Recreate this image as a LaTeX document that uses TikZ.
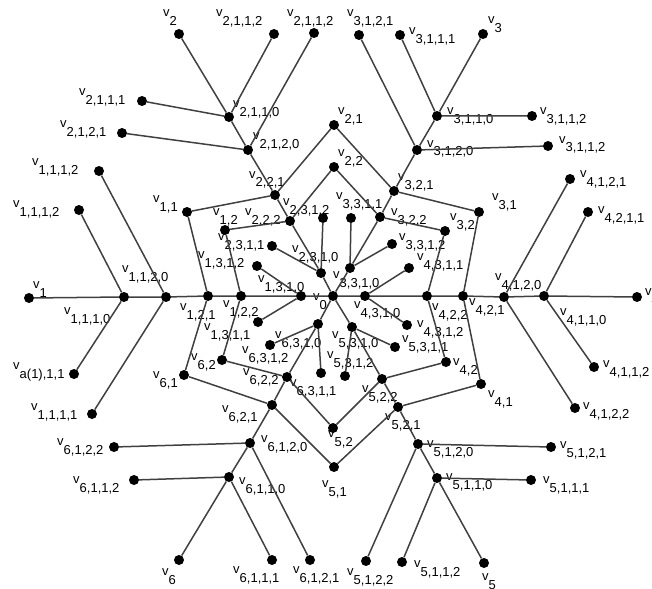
\documentclass[tikz,border=0pt]{standalone}
\usepackage{fontspec}
\setmainfont{Liberation Sans}
\definecolor{linkgray}{RGB}{64,64,64}
\newcommand{\vsub}[1]{v\raisebox{-9pt}{#1}}

\begin{document}
\begin{tikzpicture}[x=1pt,y=-1pt,dot/.style={circle,fill=black,inner sep=0pt,minimum size=10pt},lbl/.style={anchor=base west,inner sep=0pt,font=\fontsize{13}{15}\selectfont},link/.style={draw=linkgray,line width=1.5pt}]
\useasboundingbox (0,0) rectangle (652,588);
% centre and arm 1
\node[dot] (v0) at (333,296) {}; \node[lbl] (l0) at (313,300) {\vsub{0}};
\node[dot] (v1) at (29,298) {}; \node[lbl] (l1) at (33,288) {\vsub{1}};
\node[dot] (v1110) at (124,297) {}; \node[lbl] (l1110) at (64,314) {\vsub{1,1,1,0}};
\node[dot] (v1120) at (166,297) {}; \node[lbl] (l1120) at (122,272) {\vsub{1,1,2,0}};
\node[dot] (v121) at (208,296) {}; \node[lbl] (l121) at (180,310) {\vsub{1,2,1}};
\node[dot] (v122) at (241,296) {}; \node[lbl] (l122) at (223,307) {\vsub{1,2,2}};
\node[dot] (v1310) at (301,296) {}; \node[lbl] (l1310) at (258,282) {\vsub{1,3,1,0}};
\node[dot] (v1112a) at (99,171) {}; \node[lbl] (l1112a) at (32,165) {\vsub{1,1,1,2}};
\node[dot] (v1112b) at (79,210) {}; \node[lbl] (l1112b) at (13,207) {\vsub{1,1,1,2}};
\node[dot] (va111) at (74,374) {}; \node[lbl] (la111) at (13,369) {\vsub{a(1),1,1}};
\node[dot] (v1111) at (92,414) {}; \node[lbl] (l1111) at (31,410) {\vsub{1,1,1,1}};
\node[dot] (v1312) at (257,266) {}; \node[lbl] (l1312) at (198,258) {\vsub{1,3,1,2}};
\node[dot] (v1311) at (258,322) {}; \node[lbl] (l1311) at (204,330) {\vsub{1,3,1,1}};
% arm 2
\node[dot] (v2) at (179,34) {}; \node[lbl] (l2) at (163,17) {\vsub{2}};
\node[dot] (v2110) at (229,117) {}; \node[lbl] (l2110) at (233,108) {\vsub{2,1,1,0}};
\node[dot] (v2120) at (248,150) {}; \node[lbl] (l2120) at (253,140) {\vsub{2,1,2,0}};
\node[dot] (v221) at (275,195) {}; \node[lbl] (l221) at (249,178) {\vsub{2,2,1}};
\node[dot] (v222) at (290,221) {}; \node[lbl] (l222) at (245,215) {\vsub{2,2,2}};
\node[dot] (v2310) at (321,273) {}; \node[lbl] (l2310) at (292,252) {\vsub{2,3,1,0}};
\node[dot] (v2112a) at (274,34) {}; \node[lbl] (l2112a) at (216,17) {\vsub{2,1,1,2}};
\node[dot] (v2112b) at (314,33) {}; \node[lbl] (l2112b) at (287,17) {\vsub{2,1,1,2}};
\node[dot] (v2111) at (142,101) {}; \node[lbl] (l2111) at (79,96) {\vsub{2,1,1,1}};
\node[dot] (v2121) at (122,133) {}; \node[lbl] (l2121) at (60,128) {\vsub{2,1,2,1}};
\node[dot] (v2312) at (323,218) {}; \node[lbl] (l2312) at (283,205) {\vsub{2,3,1,2}};
\node[dot] (v2311) at (272,246) {}; \node[lbl] (l2311) at (218,240) {\vsub{2,3,1,1}};
% arm 3
\node[dot] (v3) at (483,34) {}; \node[lbl] (l3) at (488,24) {\vsub{3}};
\node[dot] (v3110) at (437,116) {}; \node[lbl] (l3110) at (447,115) {\vsub{3,1,1,0}};
\node[dot] (v3120) at (417,150) {}; \node[lbl] (l3120) at (427,147) {\vsub{3,1,2,0}};
\node[dot] (v321) at (394,191) {}; \node[lbl] (l321) at (398,180) {\vsub{3,2,1}};
\node[dot] (v322) at (380,217) {}; \node[lbl] (l322) at (391,215) {\vsub{3,2,2}};
\node[dot] (v3310) at (350,268) {}; \node[lbl] (l3310) at (333,278) {\vsub{3,3,1,0}};
\node[dot] (v3111) at (400,35) {}; \node[lbl] (l3111) at (409,35) {\vsub{3,1,1,1}};
\node[dot] (v3121) at (359,35) {}; \node[lbl] (l3121) at (347,17) {\vsub{3,1,2,1}};
\node[dot] (v3112a) at (532,116) {}; \node[lbl] (l3112a) at (540,115) {\vsub{3,1,1,2}};
\node[dot] (v3112b) at (548,146) {}; \node[lbl] (l3112b) at (559,143) {\vsub{3,1,1,2}};
\node[dot] (v3311) at (351,218) {}; \node[lbl] (l3311) at (336,199) {\vsub{3,3,1,1}};
\node[dot] (v3312) at (392,244) {}; \node[lbl] (l3312) at (399,240) {\vsub{3,3,1,2}};
% arm 4
\node[dot] (v4) at (637,297) {}; \node[lbl] (l4) at (645,295) {\vsub{4}};
\node[dot] (v4110) at (544,296) {}; \node[lbl] (l4110) at (560,315) {\vsub{4,1,1,0}};
\node[dot] (v4120) at (504,297) {}; \node[lbl] (l4120) at (495,280) {\vsub{4,1,2,0}};
\node[dot] (v421) at (463,296) {}; \node[lbl] (l421) at (469,305) {\vsub{4,2,1}};
\node[dot] (v422) at (427,296) {}; \node[lbl] (l422) at (432,310) {\vsub{4,2,2}};
\node[dot] (v4310) at (365,296) {}; \node[lbl] (l4310) at (354,308) {\vsub{4,3,1,0}};
\node[dot] (v4211) at (588,212) {}; \node[lbl] (l4211) at (598,213) {\vsub{4,2,1,1}};
\node[dot] (v4112) at (594,367) {}; \node[lbl] (l4112) at (603,367) {\vsub{4,1,1,2}};
\node[dot] (v4121) at (570,179) {}; \node[lbl] (l4121) at (580,177) {\vsub{4,1,2,1}};
\node[dot] (v4122) at (575,408) {}; \node[lbl] (l4122) at (583,409) {\vsub{4,1,2,2}};
\node[dot] (v4311) at (409,268) {}; \node[lbl] (l4311) at (417,260) {\vsub{4,3,1,1}};
\node[dot] (v4312) at (407,325) {}; \node[lbl] (l4312) at (417,327) {\vsub{4,3,1,2}};
% arm 5
\node[dot] (v5) at (484,563) {}; \node[lbl] (l5) at (482,580) {\vsub{5}};
\node[dot] (v5110) at (437,478) {}; \node[lbl] (l5110) at (446,480) {\vsub{5,1,1,0}};
\node[dot] (v5120) at (418,444) {}; \node[lbl] (l5120) at (427,447) {\vsub{5,1,2,0}};
\node[dot] (v521) at (398,407) {}; \node[lbl] (l521) at (385,420) {\vsub{5,2,1}};
\node[dot] (v522) at (382,379) {}; \node[lbl] (l522) at (362,392) {\vsub{5,2,2}};
\node[dot] (v5310) at (352,327) {}; \node[lbl] (l5310) at (332,338) {\vsub{5,3,1,0}};
\node[dot] (v5111) at (531,480) {}; \node[lbl] (l5111) at (543,483) {\vsub{5,1,1,1}};
\node[dot] (v5112) at (402,562) {}; \node[lbl] (l5112) at (414,567) {\vsub{5,1,1,2}};
\node[dot] (v5121) at (551,447) {}; \node[lbl] (l5121) at (560,448) {\vsub{5,1,2,1}};
\node[dot] (v5122) at (366,561) {}; \node[lbl] (l5122) at (347,575) {\vsub{5,1,2,2}};
\node[dot] (v5311) at (395,347) {}; \node[lbl] (l5311) at (402,342) {\vsub{5,3,1,1}};
\node[dot] (v5312) at (345,376) {}; \node[lbl] (l5312) at (327,358) {\vsub{5,3,1,2}};
% arm 6
\node[dot] (v6) at (179,560) {}; \node[lbl] (l6) at (162,575) {\vsub{6}};
\node[dot] (v6110) at (229,477) {}; \node[lbl] (l6110) at (239,484) {\vsub{6,1,1,0}};
\node[dot] (v6120) at (250,443) {}; \node[lbl] (l6120) at (261,442) {\vsub{6,1,2,0}};
\node[dot] (v621) at (272,405) {}; \node[lbl] (l621) at (222,412) {\vsub{6,2,1}};
\node[dot] (v622) at (287,377) {}; \node[lbl] (l622) at (243,375) {\vsub{6,2,2}};
\node[dot] (v6310) at (318,324) {}; \node[lbl] (l6310) at (275,338) {\vsub{6,3,1,0}};
\node[dot] (v6112) at (134,480) {}; \node[lbl] (l6112) at (73,483) {\vsub{6,1,1,2}};
\node[dot] (v6111) at (272,560) {}; \node[lbl] (l6111) at (233,573) {\vsub{6,1,1,1}};
\node[dot] (v6122) at (114,447) {}; \node[lbl] (l6122) at (57,445) {\vsub{6,1,2,2}};
\node[dot] (v6121) at (310,560) {}; \node[lbl] (l6121) at (293,573) {\vsub{6,1,2,1}};
\node[dot] (v6311) at (321,373) {}; \node[lbl] (l6311) at (290,386) {\vsub{6,3,1,1}};
\node[dot] (v6312) at (270,345) {}; \node[lbl] (l6312) at (242,353) {\vsub{6,3,1,2}};
% rings
\node[dot] (v11) at (187,212) {}; \node[lbl] (l11) at (153,202) {\vsub{1,1}};
\node[dot] (v21) at (334,125) {}; \node[lbl] (l21) at (338,115) {\vsub{2,1}};
\node[dot] (v31) at (479,212) {}; \node[lbl] (l31) at (492,200) {\vsub{3,1}};
\node[dot] (v41) at (481,384) {}; \node[lbl] (l41) at (488,397) {\vsub{4,1}};
\node[dot] (v51) at (334,467) {}; \node[lbl] (l51) at (322,487) {\vsub{5,1}};
\node[dot] (v61) at (184,375) {}; \node[lbl] (l61) at (153,378) {\vsub{6,1}};
\node[dot] (v12) at (225,230) {}; \node[lbl] (l12) at (213,215) {\vsub{1,2}};
\node[dot] (v22) at (334,167) {}; \node[lbl] (l22) at (338,157) {\vsub{2,2}};
\node[dot] (v32) at (445,231) {}; \node[lbl] (l32) at (450,220) {\vsub{3,2}};
\node[dot] (v42) at (446,362) {}; \node[lbl] (l42) at (453,365) {\vsub{4,2}};
\node[dot] (v52) at (333,428) {}; \node[lbl] (l52) at (328,437) {\vsub{5,2}};
\node[dot] (v62) at (222,360) {}; \node[lbl] (l62) at (191,360) {\vsub{6,2}};
% arms
\draw[link] (v1)--(v1110)--(v1120)--(v121)--(v122)--(v1310)--(v0);
\draw[link] (v2)--(v2110)--(v2120)--(v221)--(v222)--(v2310)--(v0);
\draw[link] (v3)--(v3110)--(v3120)--(v321)--(v322)--(v3310)--(v0);
\draw[link] (v4)--(v4110)--(v4120)--(v421)--(v422)--(v4310)--(v0);
\draw[link] (v5)--(v5110)--(v5120)--(v521)--(v522)--(v5310)--(v0);
\draw[link] (v6)--(v6110)--(v6120)--(v621)--(v622)--(v6310)--(v0);
% leaves
\draw[link] (v1110)--(v1112b) (v1110)--(va111) (v1120)--(v1112a) (v1120)--(v1111) (v1310)--(v1312) (v1310)--(v1311);
\draw[link] (v2110)--(v2111) (v2110)--(v2112a) (v2120)--(v2121) (v2120)--(v2112b) (v2310)--(v2311) (v2310)--(v2312);
\draw[link] (v3110)--(v3111) (v3110)--(v3112a) (v3120)--(v3121) (v3120)--(v3112b) (v3310)--(v3311) (v3310)--(v3312);
\draw[link] (v4110)--(v4211) (v4110)--(v4112) (v4120)--(v4121) (v4120)--(v4122) (v4310)--(v4311) (v4310)--(v4312);
\draw[link] (v5110)--(v5111) (v5110)--(v5112) (v5120)--(v5121) (v5120)--(v5122) (v5310)--(v5311) (v5310)--(v5312);
\draw[link] (v6110)--(v6111) (v6110)--(v6112) (v6120)--(v6121) (v6120)--(v6122) (v6310)--(v6311) (v6310)--(v6312);
% rings
\draw[link] (v121)--(v11)--(v221)--(v21)--(v321)--(v31)--(v421)--(v41)--(v521)--(v51)--(v621)--(v61)--(v121);
\draw[link] (v122)--(v12)--(v222)--(v22)--(v322)--(v32)--(v422)--(v42)--(v522)--(v52)--(v622)--(v62)--(v122);
\end{tikzpicture}
\end{document}
